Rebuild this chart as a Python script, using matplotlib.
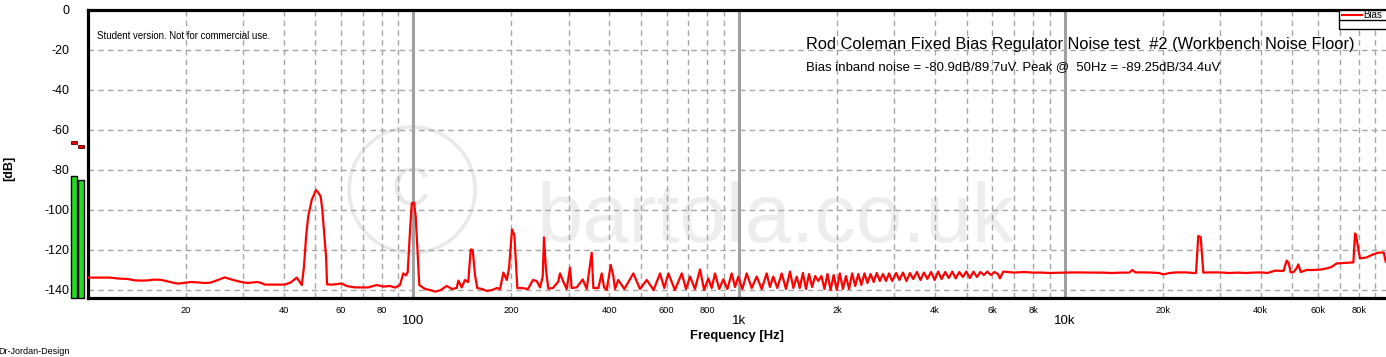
import numpy as np
import matplotlib
matplotlib.use("Agg")
import matplotlib.pyplot as plt
from matplotlib.patches import Rectangle, Ellipse
from matplotlib.lines import Line2D

plt.rcParams['font.family'] = ['Liberation Sans', 'DejaVu Sans']

# ---------------- data ----------------
low_freq = [10.0, 11.7, 12.5, 13.3, 14.0, 14.7, 15.3, 16.0, 16.8, 17.2, 17.7, 18.5, 19.0, 19.7,
            20.7, 21.8, 22.9, 23.9, 25.1, 26.4, 28.0, 29.7, 31.0, 32.2, 33.2, 34.2, 35.0, 37.5,
            40.3, 42.0, 43.9, 45.5, 46.2, 46.9, 47.6, 48.8, 50.3, 51.1, 52.0, 52.6, 53.3, 54.0,
            54.4, 56.5, 58.8, 60.3, 62.5, 66.3, 72.8, 77.3, 81.0, 84.9, 88.0, 91.1, 93.2, 95.0,
            96.2, 97.8, 99.0, 100.6, 101.8, 102.9, 104.4, 108.7, 112.6, 116.7, 120.9, 126.7,
            131.6, 136.0, 137.6, 140.9, 144.2, 147.6, 150.2, 152.3, 154.8, 157.3, 162.7, 168.5,
            174.6, 180.9, 184.8, 189.2, 193.8, 196.9, 201.1, 204.4, 206.9, 208.8, 215.8, 225.1,
            233.2, 239.4, 245.1, 249.8, 252.1, 255.7, 259.9, 268.6, 278.9, 282.3, 288.9, 296.0,
            303.0, 306.6, 317.7, 331.5, 341.0, 353.2, 357.3, 370.2, 379.2, 385.4, 392.8, 404.1,
            411.5, 416.5]
low_db = [-133.8, -133.8, -134.3, -134.5, -135.2, -135.3, -135.2, -134.8, -134.9, -135.3, -135.8,
          -136.5, -136.8, -136.5, -136.0, -136.2, -136.5, -136.3, -135.0, -133.7, -135.0, -136.0,
          -136.5, -136.2, -136.0, -136.5, -137.3, -137.3, -137.3, -136.3, -133.8, -137.5, -128.3,
          -113.3, -103.3, -95.0, -90.0, -91.3, -93.3, -100.0, -111.7, -123.3, -137.2, -137.3,
          -137.0, -136.7, -138.0, -138.7, -138.7, -137.5, -138.3, -138.0, -138.8, -137.5, -131.7,
          -132.7, -131.0, -110.0, -96.7, -96.3, -103.3, -118.3, -137.5, -139.5, -140.0, -140.8,
          -140.2, -138.0, -139.5, -139.0, -135.3, -138.7, -135.0, -136.0, -119.7, -120.0, -132.5,
          -139.0, -139.5, -140.5, -140.0, -139.0, -139.5, -131.3, -135.0, -129.0, -109.7, -112.5,
          -128.0, -139.0, -139.0, -139.5, -135.0, -135.5, -138.7, -133.3, -113.7, -130.0, -139.3,
          -139.0, -135.8, -131.7, -135.8, -139.5, -128.8, -139.0, -138.7, -134.7, -139.5, -121.3,
          -139.0, -139.0, -131.7, -138.7, -140.0, -127.5, -133.0, -139.5]

mid_freq = [426.3, 445, 474.1, 497, 521.2, 547, 572.6, 590, 607.3, 636, 667.6, 688, 707.9, 733,
            759.7, 782, 805.6, 825, 844.6, 870, 895.7, 922, 950.5, 973, 995.9, 1025, 1056.6, 1095,
            1134, 1175, 1217, 1245, 1275, 1312, 1353, 1395, 1435, 1470, 1505]
mid_db = [-135, -139.5, -131.7, -139.5, -135, -140, -131.7, -139, -131.7, -140, -131.7, -139.5,
          -133.3, -139.5, -129.7, -140, -134.2, -139, -131.7, -139.5, -134.7, -139.5, -131.7,
          -138.5, -133.3, -139.5, -131.7, -139, -133.3, -139.5, -131.7, -138.5, -133.3, -139,
          -131.7, -139.5, -130.8, -139, -133.3]

ripple_freq = [1538, 1572, 1607, 1642, 1678, 1715, 1753, 1792, 1831, 1871,
               1912, 1954, 1997, 2041, 2086, 2132, 2179, 2227, 2276, 2326,
               2377, 2429, 2482, 2537, 2593, 2650, 2708, 2768, 2829, 2891, 2955]
ripple_db = [-139, -131.5, -139.5, -132, -138.5, -133, -135.5, -133, -139.5, -132,
             -140, -132.5, -140, -131.7, -139.5, -133, -139.5, -131.7, -138, -132,
             -137.5, -131.7, -136.5, -132, -136, -131.5, -135.5, -132, -135.5, -131.7, -135.5]

upper_freq = [3040, 3110, 3190, 3270, 3350, 3430, 3520, 3610, 3700, 3790, 3890, 3990, 4090, 4190,
              4300, 4410, 4520, 4630, 4750, 4870, 4990, 5120, 5250, 5380, 5510, 5650, 5790, 5940,
              6090, 6240]
upper_db = [-131.5, -135, -131.3, -135.5, -131.5, -134.5, -131, -135, -131.3, -134.5, -131, -135,
            -130.8, -134.5, -131, -134, -130.8, -134.2, -131, -133.5, -130.8, -134, -130.8, -133.5,
            -131, -132.5, -130.8, -132.5, -131, -132]

high_freq = [6330, 6480, 7000, 7500, 8000, 8500, 9000, 10000, 11000, 12000, 13000, 14000, 15000,
             15800, 16140, 16500, 17500, 18500, 19500, 20100, 21000, 22000, 23500, 25000, 25320,
             25730, 26170, 26660, 28000, 30000, 32000, 34000, 36000, 38000, 40000, 42000, 44260,
             47000, 48070, 48750, 49450, 50500, 51600, 52190, 53090, 55390, 58000, 61000, 63800,
             66000, 68460, 72000, 77020, 77930, 78500, 79210, 80720, 84640, 87690, 91880, 95500,
             96800]
high_db = [-134.2, -130.8, -131.3, -131.0, -131.3, -131.3, -131.5, -131.3, -131.2, -131.3, -131.3,
           -131.5, -131.3, -131.3, -130.0, -131.2, -131.2, -131.3, -131.5, -132.2, -131.5, -131.2,
           -131.2, -131.5, -131.5, -113.0, -113.5, -131.3, -131.2, -131.2, -131.5, -131.3, -131.5,
           -131.3, -131.2, -131.5, -130.3, -130.5, -125.3, -126.5, -131.2, -131.0, -129.0, -127.2,
           -131.0, -130.0, -130.0, -129.8, -129.2, -128.5, -126.7, -126.5, -126.2, -111.7, -112.5,
           -116.7, -124.2, -123.7, -122.5, -121.3, -121.3, -125.8]

y_ticks = [0, -20, -40, -60, -80, -100, -120, -140]
x_major = [100, 1000, 10000]
x_major_labels = ['100', '1k', '10k']
x_minor = [20, 30, 40, 50, 60, 70, 80, 90,
           200, 300, 400, 500, 600, 700, 800, 900,
           2000, 3000, 4000, 5000, 6000, 7000, 8000, 9000,
           20000, 30000, 40000, 50000, 60000, 70000, 80000, 90000]
x_minor_labels = ['20', '', '40', '', '60', '', '80', '',
                  '200', '', '400', '', '600', '', '800', '',
                  '2k', '', '4k', '', '6k', '', '8k', '',
                  '20k', '', '40k', '', '60k', '', '80k', '']

meter_levels = [-82.8, -84.8]
meter_peaks = [-66.0, -68.2]

title = "Rod Coleman Fixed Bias Regulator Noise test  #2 (Workbench Noise Floor)"
subtitle = "Bias inband noise = -80.9dB/89.7uV. Peak @  50Hz = -89.25dB/34.4uV"

# ---------------- figure ----------------
W, H = 1386, 357
fig = plt.figure(figsize=(W / 100, H / 100), dpi=100)
fig.patch.set_facecolor('white')
ax = fig.add_axes([87.5 / W, 1 - 298 / H, (1386 - 87.5) / W, (298 - 10) / H])
ax.set_xscale('log')
ax.set_xlim(10, 97000)
ax.set_ylim(-144, 0)

# watermark
ax.text(0.53, (298 - 242) / 288, 'bartola.co.uk', transform=ax.transAxes, fontsize=60,
        color='#ededed', ha='center', va='baseline', zorder=0.5)
ax.add_patch(Ellipse(((412 - 87.5) / 1298, (298 - 190) / 288), 126 / 1298, 126 / 288,
                     transform=ax.transAxes, fill=False, edgecolor='#e9e9e9', lw=2.5, zorder=0.5))
ax.text((410 - 87.5) / 1298, (298 - 192) / 288, 'C', transform=ax.transAxes, fontsize=38,
        color='#e9e9e9', ha='center', va='center', zorder=0.5)

# grid
grid_c = '#a6a6a6'
for f in x_minor:
    ax.axvline(f, color=grid_c, lw=1.0, ls=(0, (4, 3)), zorder=1)
for f in x_major:
    ax.axvline(f, color='#a0a0a0', lw=2.2, zorder=1)
for v in y_ticks[1:]:
    ax.axhline(v, color=grid_c, lw=1.0, ls=(0, (4, 3)), zorder=1)

# data line
freqs = np.array(low_freq + mid_freq + ripple_freq + upper_freq + high_freq)
levels = np.array(low_db + mid_db + ripple_db + upper_db + high_db)
ax.plot(freqs, levels, color='#ff0000', lw=1.6, zorder=3)

# spines
for s in ['left', 'top', 'bottom']:
    ax.spines[s].set_linewidth(2.3)
    ax.spines[s].set_color('black')
ax.spines['right'].set_visible(False)

# ticks
ax.set_yticks(y_ticks)
ax.set_yticklabels([str(v) for v in y_ticks])
ax.tick_params(axis='y', length=0, pad=13, labelsize=9)
ax.set_xticks(x_major)
ax.set_xticklabels(x_major_labels)
ax.set_xticks(x_minor, minor=True)
ax.set_xticklabels(x_minor_labels, minor=True)
ax.tick_params(axis='x', which='major', length=0, pad=12.5, labelsize=9.5)
ax.tick_params(axis='x', which='minor', length=0, pad=5.5, labelsize=6.7)

# level meter at the left
ytr = ax.get_yaxis_transform()
bar_x = [(70.7 - 87.5) / 1298, (78.3 - 87.5) / 1298]
bw = 6 / 1298
for x0, lv, pk in zip(bar_x, meter_levels, meter_peaks):
    ax.add_patch(Rectangle((x0, -144), bw, lv + 144, transform=ytr, clip_on=False,
                           facecolor='#22dd22', edgecolor='black', lw=1.0, zorder=4))
    ax.add_patch(Rectangle((x0, pk - 0.75), bw, 1.5, transform=ytr, clip_on=False,
                           facecolor='#ee0000', edgecolor='#550000', lw=0.6, zorder=4))

# texts
fig.text(806 / W, 1 - 44 / H, title, fontsize=11.75, ha='left', va='center')
fig.text(806 / W, 1 - 67 / H, subtitle, fontsize=9.45, ha='left', va='center')
fig.text(97 / W, 1 - 36 / H, 'Student version. Not for commercial use.', fontsize=6.9,
         ha='left', va='center')
fig.text(737 / W, 1 - 336 / H, 'Frequency [Hz]', fontsize=9.4, fontweight='bold',
         ha='center', va='center')
fig.text(9 / W, 1 - 168 / H, '[dB]', fontsize=9, fontweight='bold', rotation=90,
         ha='center', va='center')
fig.text(-2 / W, 1 - 351 / H, 'Dr-Jordan-Design', fontsize=6.5, ha='left', va='center')

# legend box (top-right)
fig.patches.append(Rectangle((1339 / W, 1 - 29.3 / H), (1390 - 1339) / W, 19.3 / H,
                             transform=fig.transFigure, facecolor='white', edgecolor='black',
                             lw=1.0, zorder=5))
fig.lines.append(Line2D([1339 / W, 1390 / W], [1 - 20 / H, 1 - 20 / H],
                        transform=fig.transFigure, color='black', lw=1.0, zorder=6))
fig.lines.append(Line2D([1342 / W, 1362 / W], [1 - 15 / H, 1 - 15 / H],
                        transform=fig.transFigure, color='#ff0000', lw=1.5, zorder=6))
fig.text(1363 / W, 1 - 15 / H, 'Bias', fontsize=7, ha='left', va='center', zorder=7)

fig.savefig('out.png', dpi=100, facecolor='white')
